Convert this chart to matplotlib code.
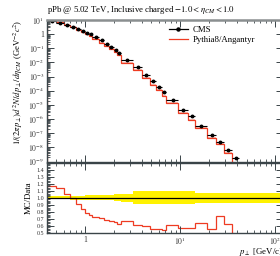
import matplotlib
matplotlib.use("Agg")
import matplotlib.pyplot as plt
from matplotlib.lines import Line2D
from matplotlib.ticker import (FuncFormatter, LogLocator, MultipleLocator, NullFormatter,
                               FixedLocator)
import numpy as np

plt.rcParams['font.family'] = ['Liberation Serif', 'DejaVu Serif']
plt.rcParams['mathtext.fontset'] = 'stix'

# bin edges of the CMS pPb charged hadron spectrum
pt_edges = [0.4, 0.5, 0.6, 0.7, 0.8, 0.9, 1.0, 1.1, 1.2, 1.4, 1.6, 1.8, 2.0, 2.2, 2.4,
            3.2, 4.0, 4.8, 5.6, 6.4, 7.2, 9.6, 12.0, 14.4, 19.2, 24.0, 28.8, 35.2,
            41.6, 48.0, 60.8, 73.6, 86.4, 103.6, 120.8]

# data values
cms_vals = [8.3, 5.9, 4.3, 3.1, 2.3, 1.7, 1.26, 0.95, 0.63, 0.36, 0.21, 0.13, 0.079, 0.050,
            1.45e-2, 4.5e-3, 1.26e-3, 4.6e-4, 1.9e-4, 8.5e-5, 2.3e-5, 4.4e-6, 1.6e-6,
            3.5e-7, 7.6e-8, 2.3e-8, 6.0e-9, 1.9e-9, 6.3e-10, 1.6e-10, 4.2e-11, 1.3e-11,
            4.5e-12, 1.6e-12]

# relative data uncertainty (yellow band)
cms_relerr = [0.02, 0.02, 0.02, 0.03, 0.03, 0.03, 0.035, 0.035, 0.035, 0.035, 0.035, 0.035,
              0.05, 0.05, 0.06, 0.09, 0.09, 0.09, 0.09, 0.09, 0.09, 0.09, 0.09,
              0.07, 0.07, 0.07, 0.07, 0.07, 0.07, 0.07, 0.07, 0.07, 0.07, 0.07]

# MC / Data
mc_ratio = [1.165, 1.14, 1.05, 1.0, 0.91, 0.84, 0.79, 0.75, 0.73, 0.71, 0.69, 0.67, 0.65, 0.63,
            0.67, 0.61, 0.60, 0.56, 0.56, 0.54, 0.62, 0.57, 0.57, 0.64, 0.56, 0.745, 0.63,
            0, 0, 0, 0, 0, 0, 0]

ratio_ticks = [0.5, 0.6, 0.7, 0.8, 0.9, 1.0, 1.1, 1.2, 1.3, 1.4]

title = r"pPb @ 5.02 TeV, Inclusive charged $-1.0 < \eta_{CM} < 1.0$"
ylabel = r"$1/(2\pi p_\perp) d^2N/dp_\perp/d\eta_{CM}$ (GeV$^{-2}c^2$)"
xlabel = r"$p_\perp$ [GeV/c]"

red = '#ee3b22'
frame = '#3a4448'

edges = np.array(pt_edges)
centers = 0.5 * (edges[:-1] + edges[1:])
vals = np.array(cms_vals)
relerr = np.array(cms_relerr)
ratio = np.array(mc_ratio)
mc = ratio * vals
mc_plot = np.where(mc > 0, mc, 1e-20)

W, H = 280, 256
fig = plt.figure(figsize=(W / 100, H / 100), dpi=100)
x0, x1 = 47, 283
ax = fig.add_axes([x0 / W, 1 - 161.5 / H, (x1 - x0) / W, (161.5 - 20) / H])
rax = fig.add_axes([x0 / W, 1 - 233 / H, (x1 - x0) / W, (233 - 162.5) / H])


def logfmt(v, pos):
    e = int(round(np.log10(v)))
    return '1' if e == 0 else r'$10^{%d}$' % e


for a in (ax, rax):
    a.set_xscale('log')
    a.set_xlim(edges[0], edges[-1])
    for s in a.spines.values():
        s.set_color(frame)
        s.set_linewidth(1.0)
    a.tick_params(which='both', direction='in', top=True, right=True, colors=frame,
                  labelcolor='#333333', labelsize=5.5, pad=2)
    a.tick_params(which='major', length=5, width=0.7)
    a.tick_params(which='minor', length=2.5, width=0.6)
    a.xaxis.set_major_locator(LogLocator(base=10))
    a.xaxis.set_minor_locator(LogLocator(base=10, subs=np.arange(2, 10)))
    a.xaxis.set_minor_formatter(NullFormatter())

ax.spines['top'].set_linewidth(1.8)
ax.spines['top'].set_color('#8a8f90')

# main panel
ax.set_yscale('log')
ax.set_ylim(1e-9, 10)
ax.yaxis.set_major_locator(LogLocator(base=10, numticks=20))
ax.yaxis.set_minor_locator(LogLocator(base=10, subs=np.arange(2, 10), numticks=20))
ax.yaxis.set_major_formatter(FuncFormatter(logfmt))
ax.yaxis.set_minor_formatter(NullFormatter())
ax.tick_params(axis='x', labelbottom=False)

ax.fill_between(edges, np.append(mc_plot * 0.85, mc_plot[-1] * 0.85),
                np.append(mc_plot * 1.18, mc_plot[-1] * 1.18), step='post',
                color='#f8a595', lw=0, alpha=0.7)
ax.stairs(mc_plot, edges, color=red, lw=0.9)
ax.errorbar(centers, vals, xerr=[centers - edges[:-1], edges[1:] - centers],
            yerr=vals * relerr, fmt='o', color='black', ms=1.8, elinewidth=0.8, capsize=0)

ax.text(0.0, 1.025, title, transform=ax.transAxes, fontsize=6.3, ha='left', va='bottom')
ax.set_ylabel(ylabel, fontsize=6.2, loc='top', labelpad=2)

handles = [Line2D([0], [0], color='black', marker='o', ms=2.2, lw=0.9),
           Line2D([0], [0], color=red, lw=0.9)]
ax.legend(handles, ['CMS', 'Pythia8/Angantyr'], loc='upper left',
          bbox_to_anchor=(0.5, 0.985), frameon=False, fontsize=6.3,
          handlelength=2.2, handletextpad=0.6, labelspacing=0.25, borderaxespad=0)

# ratio panel
rax.set_ylim(0.5, 1.5)
rax.yaxis.set_major_locator(FixedLocator(ratio_ticks))
rax.yaxis.set_minor_locator(MultipleLocator(0.02))
rax.yaxis.set_major_formatter(FuncFormatter(lambda v, p: '%.1f' % v))
rax.tick_params(axis='y', labelsize=4.3, pad=2)
rax.xaxis.set_major_formatter(FuncFormatter(logfmt))

for i in range(len(centers)):
    rax.fill_between([edges[i], edges[i + 1]], 1 - relerr[i], 1 + relerr[i],
                     color='#fff200', lw=0)
rax.axhline(1.0, color='black', lw=0.9)
rax.stairs(ratio, edges, color=red, lw=0.9)

rax.set_ylabel('MC/Data', fontsize=6.3, labelpad=3)
rax.set_xlabel(xlabel, fontsize=6.3, loc='right', labelpad=-1)

fig.savefig('out.png', dpi=100)
